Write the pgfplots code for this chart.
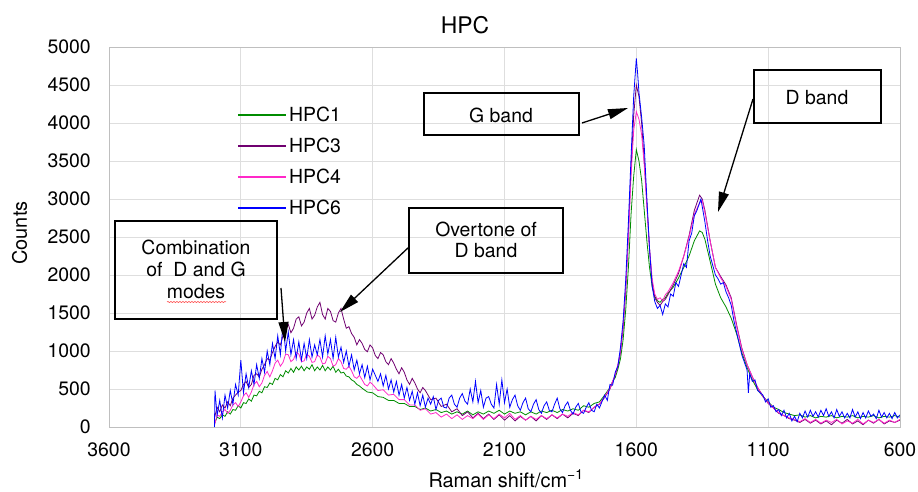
\documentclass[border=0pt]{standalone}
\usepackage{pgfplots}
\pgfplotsset{compat=1.18}
\usepackage{fontspec}
\setmainfont{TeX Gyre Heros}
\usetikzlibrary{arrows.meta,decorations.pathmorphing}
\definecolor{cgreen}{RGB}{0,140,0}
\definecolor{cpurple}{RGB}{112,0,112}
\definecolor{cpink}{RGB}{255,40,200}
\definecolor{cblue}{RGB}{0,0,255}
\begin{document}
\begin{tikzpicture}
\useasboundingbox (-109bp,-65bp) rectangle (809bp,427bp);
\begin{axis}[
  at={(0,0)}, anchor=south west,
  scale only axis, width=791bp, height=380bp,
  x dir=reverse,
  xmin=600, xmax=3600, ymin=0, ymax=5000,
  xtick={600,1100,...,3600}, ytick={0,500,...,5000},
  scaled ticks=false,
  grid=major, major grid style={draw=black!13, line width=0.8bp},
  axis line style={draw=black!25, line width=0.8bp},
  major tick length=0pt,
  tick label style={font=\fontsize{19.5}{20}\selectfont},
  /pgf/number format/assume math mode=true,
  /pgf/number format/1000 sep={},
  yticklabel style={anchor=east, inner sep=0pt, xshift=-18bp},
  xticklabel style={anchor=north, inner sep=0pt, yshift=-16bp},
  legend style={at={(0.1618,0.847)}, anchor=north west, draw=none, fill=none, inner sep=0pt,
    font=\fontsize{19.5}{20}\selectfont, row sep=11bp},
  legend cell align=left,
  legend image code/.code={\draw[line width=1.9bp,#1] (0bp,0bp) -- (48bp,0bp);},
]
\addlegendimage{cgreen}
\addlegendentry{HPC1}
\addlegendimage{cpurple}
\addlegendentry{HPC3}
\addlegendimage{cpink}
\addlegendentry{HPC4}
\addlegendimage{cblue}
\addlegendentry{HPC6}
\addplot[cgreen, line width=0.8bp, mark=none, forget plot] table {
x y
3200 40
3190 130
3180 110
3170 160
3160 140
3150 200
3140 170
3130 230
3120 220
3110 280
3100 250
3090 320
3080 310
3070 370
3060 340
3050 420
3040 410
3030 470
3020 450
3010 530
3000 520
2990 580
2980 560
2970 640
2960 620
2950 690
2940 660
2930 740
2920 710
2910 770
2900 720
2890 790
2880 750
2870 800
2860 740
2850 790
2840 760
2830 820
2820 740
2810 790
2800 750
2790 810
2780 740
2770 790
2760 750
2750 800
2740 720
2730 760
2720 710
2710 720
2700 670
2690 660
2680 620
2670 600
2660 560
2650 540
2640 510
2620 460
2600 450
2580 400
2560 390
2540 350
2520 350
2500 310
2480 310
2460 270
2440 270
2420 230
2400 250
2380 210
2360 230
2340 190
2320 210
2300 170
2280 200
2260 170
2240 210
2220 160
2200 200
2180 170
2160 210
2140 180
2120 220
2100 170
2080 210
2060 180
2040 200
2020 160
2000 200
1980 170
1960 210
1940 190
1920 220
1900 190
1880 230
1860 210
1840 240
1820 220
1800 280
1780 260
1760 310
1740 330
1720 420
1700 520
1690 600
1680 650
1670 760
1660 900
1650 1150
1640 1550
1630 2100
1620 2800
1610 3300
1600 3650
1590 3500
1580 3250
1570 2850
1560 2450
1550 2100
1540 1850
1530 1720
1520 1660
1510 1640
1500 1680
1490 1700
1480 1760
1460 1840
1440 1960
1420 2100
1400 2250
1380 2450
1360 2580
1350 2560
1340 2470
1320 2180
1300 1880
1280 1700
1260 1580
1240 1430
1220 1230
1200 980
1180 780
1160 620
1140 490
1120 400
1100 330
1080 260
1060 230
1040 190
1020 170
1000 150
980 160
960 130
940 150
920 120
900 140
880 130
860 150
840 120
820 140
800 130
780 150
760 120
740 140
720 130
700 150
680 120
660 140
640 130
620 150
600 130
};
\addplot[cpurple, line width=0.8bp, mark=none, forget plot] table {
x y
3200 120
3190 260
3180 200
3170 290
3160 250
3150 330
3140 280
3130 380
3120 420
3110 460
3100 480
3090 560
3080 600
3070 520
3060 560
3050 680
3040 700
3030 660
3020 760
3010 820
3000 900
2990 880
2980 980
2970 1060
2960 1120
2950 1080
2940 1200
2930 1280
2920 1350
2910 1240
2900 1300
2890 1420
2880 1450
2870 1330
2860 1380
2850 1500
2840 1560
2830 1420
2820 1470
2810 1580
2800 1640
2790 1480
2780 1420
2770 1560
2760 1520
2750 1400
2740 1380
2730 1500
2720 1560
2710 1420
2700 1300
2690 1320
2680 1230
2670 1180
2660 1080
2650 1150
2640 1100
2630 1020
2620 990
2610 1080
2600 1040
2590 940
2580 900
2570 980
2560 950
2550 860
2540 820
2530 900
2520 840
2510 760
2500 700
2490 780
2480 720
2470 620
2460 560
2450 640
2440 580
2430 500
2420 450
2410 520
2400 480
2380 360
2360 380
2340 270
2320 300
2300 200
2280 240
2260 150
2240 200
2220 120
2200 180
2180 110
2160 170
2140 100
2120 160
2100 90
2080 150
2060 80
2040 140
2020 90
2000 140
1980 80
1960 150
1940 100
1920 160
1900 110
1880 170
1860 120
1840 180
1820 150
1800 220
1780 190
1760 260
1740 300
1720 390
1700 500
1690 590
1680 680
1670 800
1660 980
1650 1300
1640 1800
1630 2550
1620 3400
1610 4100
1600 4500
1590 4350
1580 4000
1570 3500
1560 2950
1550 2350
1540 1900
1530 1700
1520 1640
1510 1600
1500 1650
1490 1680
1480 1740
1460 1870
1440 2020
1420 2250
1400 2520
1380 2850
1360 3050
1350 3000
1340 2850
1320 2450
1300 2100
1280 1980
1260 1870
1240 1700
1220 1350
1200 1040
1180 820
1160 660
1140 520
1120 410
1100 310
1080 250
1060 180
1040 150
1020 110
1000 90
980 60
960 100
940 50
920 90
900 40
880 80
860 30
840 90
820 50
800 100
780 40
760 80
740 30
720 90
700 50
680 100
660 40
640 80
620 60
600 90
};
\addplot[cpink, line width=0.8bp, mark=none, forget plot] table {
x y
3200 20
3190 160
3180 140
3170 200
3160 230
3150 180
3140 220
3130 290
3120 320
3110 270
3100 330
3090 410
3080 450
3070 390
3060 460
3050 560
3040 600
3030 530
3020 580
3010 680
3000 730
2990 660
2980 740
2970 840
2960 880
2950 800
2940 850
2930 960
2920 950
2910 860
2900 890
2890 980
2880 960
2870 860
2860 870
2850 960
2840 930
2830 850
2820 860
2810 950
2800 920
2790 830
2780 840
2770 930
2760 900
2750 800
2740 820
2730 900
2720 860
2710 770
2700 760
2690 800
2680 740
2670 660
2660 640
2650 680
2640 620
2630 560
2620 540
2610 590
2600 560
2580 480
2560 490
2540 420
2520 430
2500 360
2480 360
2460 290
2440 290
2420 220
2400 240
2380 170
2360 190
2340 130
2320 170
2300 110
2280 160
2260 100
2240 150
2220 110
2200 170
2180 100
2160 160
2140 110
2120 170
2100 120
2080 180
2060 100
2040 150
2020 90
2000 140
1980 100
1960 150
1940 110
1920 160
1900 120
1880 170
1860 140
1840 190
1820 160
1800 220
1780 200
1760 260
1740 300
1720 400
1700 510
1690 600
1680 690
1670 820
1660 1000
1650 1350
1640 1850
1630 2500
1620 3300
1610 3900
1600 4150
1590 4050
1580 3850
1570 3450
1560 2900
1550 2350
1540 1950
1530 1750
1520 1680
1510 1700
1500 1660
1490 1740
1480 1780
1460 1900
1440 2050
1420 2250
1400 2500
1380 2800
1360 2950
1350 2980
1340 2820
1320 2450
1300 2100
1280 1960
1260 1850
1240 1680
1220 1330
1200 1030
1180 820
1160 660
1140 520
1120 400
1100 320
1080 250
1060 190
1040 150
1020 120
1000 100
980 70
960 110
940 60
920 100
900 50
880 90
860 60
840 100
820 40
800 80
780 50
760 100
740 40
720 90
700 60
680 100
660 50
640 90
620 60
600 100
};
\addplot[cblue, line width=0.8bp, mark=none, forget plot] table {
x y
3200 0
3198 480
3190 150
3180 350
3170 120
3160 420
3150 250
3140 480
3130 300
3120 560
3110 420
3100 880
3090 450
3080 700
3070 520
3060 740
3050 560
3040 820
3030 640
3020 900
3010 720
3000 1000
2990 820
2980 1100
2970 900
2960 1200
2950 950
2940 1350
2930 1000
2920 1250
2910 950
2900 1150
2890 900
2880 1120
2870 880
2860 1100
2850 900
2840 1150
2830 920
2820 1080
2810 950
2800 1150
2790 920
2780 1200
2770 960
2760 1150
2750 900
2740 1180
2730 920
2720 1050
2710 850
2700 1000
2690 800
2680 950
2670 750
2660 880
2650 700
2640 820
2630 650
2620 800
2610 620
2600 760
2580 600
2570 700
2560 540
2550 680
2540 500
2530 620
2520 460
2510 600
2500 420
2490 560
2480 380
2470 520
2460 350
2450 470
2440 300
2430 450
2420 280
2410 420
2400 260
2390 380
2380 300
2370 400
2360 230
2350 350
2340 380
2330 260
2320 250
2310 380
2300 420
2290 300
2280 260
2270 380
2260 440
2250 340
2240 300
2230 500
2220 330
2210 600
2200 320
2190 480
2180 260
2170 380
2160 400
2150 300
2140 250
2130 560
2120 300
2110 620
2100 320
2090 500
2080 260
2070 360
2060 420
2050 280
2040 220
2030 320
2020 380
2010 240
2000 200
1990 300
1980 360
1970 230
1960 180
1950 280
1940 330
1930 220
1920 200
1910 300
1900 380
1890 240
1880 190
1870 280
1860 330
1850 220
1840 170
1830 260
1820 310
1810 200
1800 180
1790 260
1780 320
1770 220
1760 200
1750 300
1740 250
1720 420
1710 350
1700 560
1690 550
1680 720
1670 800
1660 1050
1650 1400
1640 1950
1630 2700
1620 3550
1610 4350
1605 4600
1600 4850
1595 4650
1590 4400
1580 4080
1570 3700
1560 3000
1550 2350
1540 1850
1530 1650
1520 1560
1510 1600
1500 1480
1490 1620
1480 1580
1470 1750
1460 1720
1450 1900
1440 1850
1420 2150
1410 2100
1400 2450
1390 2550
1380 2780
1370 2850
1360 2950
1355 3000
1350 2900
1340 2700
1330 2460
1320 2250
1300 2000
1290 1950
1280 1880
1270 1900
1260 1780
1250 1700
1240 1600
1230 1400
1220 1250
1210 1100
1200 950
1190 850
1180 750
1175 450
1170 700
1160 600
1150 620
1140 480
1130 450
1120 420
1110 330
1100 370
1090 260
1080 280
1070 200
1060 230
1050 150
1040 220
1030 120
1020 180
1010 80
1000 140
990 70
980 180
970 120
960 210
950 130
940 220
930 140
920 200
910 130
900 220
890 150
880 240
870 140
860 200
850 120
840 230
830 140
820 200
810 120
800 180
790 120
780 230
770 130
760 200
750 110
740 190
730 120
720 210
710 140
700 170
690 110
680 220
670 130
660 190
650 120
640 180
630 110
620 190
610 120
600 160
};
\end{axis}
% titles and labels
\node[anchor=base, font=\fontsize{23}{24}\selectfont] at (356bp,393bp) {HPC};
\node[anchor=base, font=\fontsize{20}{22}\selectfont] at (397bp,-60bp) {Raman shift/cm\textsuperscript{−1}};
\node[anchor=base, rotate=90, font=\fontsize{20}{22}\selectfont] at (-82bp,194bp) {Counts};
% annotation boxes
\begin{scope}[line width=1.6bp]
\draw (6bp,206bp) rectangle (168bp,108bp);
\draw (300bp,219bp) rectangle (454bp,154bp);
\draw (315bp,334bp) rectangle (470bp,292bp);
\draw (645bp,357bp) rectangle (772bp,304bp);
\end{scope}
\begin{scope}[font=\fontsize{19.5}{22}\selectfont]
\node[anchor=base] at (87bp,172bp) {Combination};
\node[anchor=base] at (87bp,150bp) {of\ \ D and G};
\node[anchor=base] at (87bp,128bp) {modes};
\node[anchor=base] at (377bp,190bp) {Overtone of};
\node[anchor=base] at (377bp,169bp) {D band};
\node[anchor=base] at (392bp,304bp) {G band};
\node[anchor=base] at (708bp,322bp) {D band};
\end{scope}
\draw[red!80, line width=0.5bp, decorate, decoration={snake, amplitude=0.5bp, segment length=3bp}] (58bp,125bp) -- (117bp,125bp);
% arrows
\begin{scope}[line width=1.3bp, -{Triangle[length=20bp,width=10bp]}]
\draw (172bp,139bp) -- (176bp,85bp);
\draw (300bp,180bp) -- (231bp,115bp);
\draw (473bp,304bp) -- (519bp,319bp);
\draw (644bp,328bp) -- (609bp,215bp);
\end{scope}
\end{tikzpicture}
\end{document}
